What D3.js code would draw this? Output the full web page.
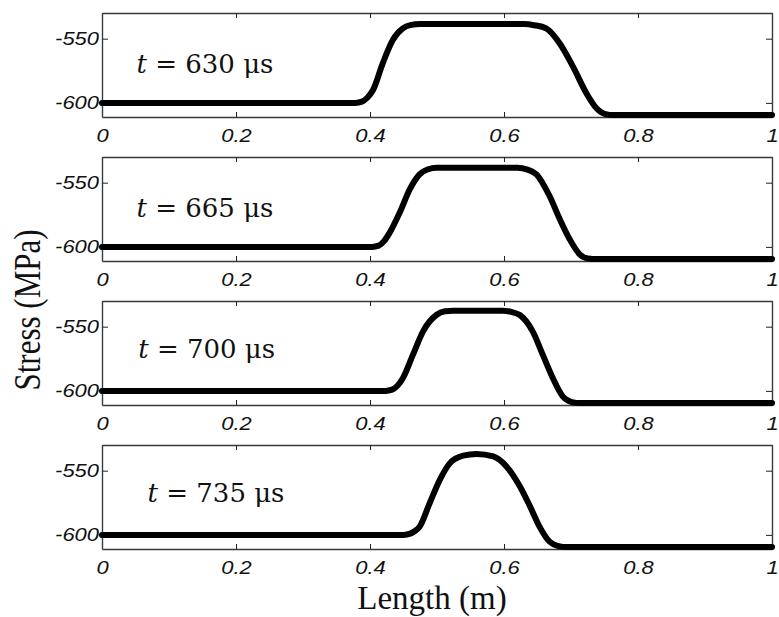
<!DOCTYPE html>
<html>
<head>
<meta charset="utf-8">
<script src="https://cdn.jsdelivr.net/npm/d3@7"></script>
<style>
  html, body { margin: 0; padding: 0; background: #fff; }
  svg { display: block; }
</style>
</head>
<body>
<svg id="chart" width="779" height="617"></svg>
<script>
// Stress profile along the bar at four instants
const times = ["630", "665", "700", "735"];
const lengthTicks = [0, 0.2, 0.4, 0.6, 0.8, 1];
const stressTicks = [-550, -600];

const length630 = [0, 0.378, 0.388, 0.396, 0.4045, 0.419, 0.434, 0.449, 0.460, 0.475, 0.630, 0.645, 0.663, 0.683, 0.703, 0.723, 0.738, 0.750, 0.765, 1];
const stress630 = [-600, -600, -599, -596, -590, -569.2, -551, -542, -539.5, -538.6, -538.6, -539.5, -542, -553.6, -571.8, -592.5, -604.2, -608.5, -609.5, -609.5];

const length665 = [0, 0.403, 0.413, 0.421, 0.4294, 0.4444, 0.4593, 0.474, 0.487, 0.499, 0.620, 0.635, 0.6485, 0.668, 0.6833, 0.698, 0.713, 0.725, 0.740, 1];
const stress665 = [-600, -600, -599, -595.5, -588.9, -573.3, -555.2, -543.5, -539.5, -538.3, -538.3, -539.8, -543.5, -560.4, -578.5, -594, -605.8, -609, -609.5, -609.5];

const length700 = [0, 0.423, 0.433, 0.441, 0.449, 0.464, 0.479, 0.499, 0.512, 0.524, 0.598, 0.611, 0.6236, 0.643, 0.658, 0.673, 0.688, 0.700, 0.715, 1];
const stress700 = [-600, -600, -599, -596, -590.2, -572, -553.8, -540.9, -538, -537.5, -537.5, -538.5, -540.9, -553.8, -572, -590.2, -604.5, -608.5, -609.5, -609.5];

const length735 = [0, 0.450, 0.460, 0.467, 0.474, 0.489, 0.504, 0.519, 0.539, 0.559, 0.584, 0.604, 0.624, 0.639, 0.653, 0.668, 0.680, 0.695, 1];
const stress735 = [-600, -600, -599, -597, -593.6, -575.4, -557.3, -544.3, -538.3, -537, -538.9, -546.9, -562.5, -578, -593.6, -605.3, -608.5, -609.5, -609.5];

const profiles = [
  { t: times[0], xs: length630, ys: stress630 },
  { t: times[1], xs: length665, ys: stress665 },
  { t: times[2], xs: length700, ys: stress700 },
  { t: times[3], xs: length735, ys: stress735 }
];

// label anchors in data units (length, stress)
const labelAt = [[0.0515, -576.7], [0.0515, -576.7], [0.054, -574.1], [0.068, -574.2]];

const svg = d3.select("#chart");
const left = 102, right = 772, panelH = 104, firstTop = 13, step = 144;
const frameColor = "#3a3a3a";
const sx = 1.22; // horizontal stretch of the axis lettering

const x = d3.scaleLinear().domain([0, 1]).range([left, right]);

profiles.forEach((p, i) => {
  const top = firstTop + i * step;
  const y = d3.scaleLinear().domain([-611, -530]).range([top + panelH, top]);
  const g = svg.append("g");

  // bottom axis with labels
  const bottom = g.append("g")
    .attr("transform", `translate(0,${top + panelH})`)
    .call(d3.axisBottom(x).tickValues(lengthTicks).tickSizeInner(-5).tickSizeOuter(0).tickPadding(12)
      .tickFormat(d => String(d)));
  // top axis, ticks only
  const topAx = g.append("g")
    .attr("transform", `translate(0,${top})`)
    .call(d3.axisTop(x).tickValues(lengthTicks).tickSizeInner(-5).tickSizeOuter(0).tickFormat(""));
  // left axis with labels
  const leftAx = g.append("g")
    .attr("transform", `translate(${left},0)`)
    .call(d3.axisLeft(y).tickValues(stressTicks).tickSizeInner(-6).tickSizeOuter(0).tickPadding(3)
      .tickFormat(d => String(d)));
  // right axis, ticks only
  const rightAx = g.append("g")
    .attr("transform", `translate(${right},0)`)
    .call(d3.axisRight(y).tickValues(stressTicks).tickSizeInner(-6).tickSizeOuter(0).tickFormat(""));

  [bottom, topAx, leftAx, rightAx].forEach(a => {
    a.select(".domain").attr("stroke", frameColor).attr("stroke-width", 1.4);
    a.selectAll(".tick line").attr("stroke", "#222").attr("stroke-width", 1);
  });
  topAx.selectAll("text").remove();
  rightAx.selectAll("text").remove();

  bottom.selectAll(".tick text")
    .attr("font-family", "'Liberation Sans', Arial, sans-serif")
    .attr("font-style", "italic")
    .attr("font-size", 18)
    .attr("fill", "#111")
    .attr("transform", `scale(${sx},1)`);

  leftAx.selectAll(".tick text")
    .attr("font-family", "'Liberation Sans', Arial, sans-serif")
    .attr("font-style", "italic")
    .attr("font-size", 18)
    .attr("fill", "#111")
    .attr("x", -3 / sx)
    .attr("transform", `scale(${sx},1)`);

  // stress profile
  const pts = p.xs.map((v, k) => [v, p.ys[k]]);
  g.append("path")
    .datum(pts)
    .attr("fill", "none")
    .attr("stroke", "#000")
    .attr("stroke-width", 6)
    .attr("stroke-linejoin", "round")
    .attr("stroke-linecap", "round")
    .attr("d", d3.line().x(d => x(d[0])).y(d => y(d[1])).curve(d3.curveMonotoneX));

  // time annotation
  const lab = g.append("text")
    .attr("x", x(labelAt[i][0]))
    .attr("y", y(labelAt[i][1]))
    .attr("font-family", "'DejaVu Serif', serif")
    .attr("font-size", 26)
    .attr("fill", "#111");
  lab.append("tspan").attr("font-style", "italic").text("t");
  lab.append("tspan").text(` = ${p.t} μs`);
});

// axis titles
svg.append("text")
  .attr("transform", `translate(40,310) scale(1.2,1) rotate(-90)`)
  .attr("text-anchor", "middle")
  .attr("font-family", "'Liberation Serif', 'Times New Roman', serif")
  .attr("font-size", 31)
  .attr("fill", "#111")
  .text("Stress (MPa)");

svg.append("text")
  .attr("x", 432)
  .attr("y", 609)
  .attr("text-anchor", "middle")
  .attr("font-family", "'Liberation Serif', 'Times New Roman', serif")
  .attr("font-size", 33)
  .attr("fill", "#111")
  .text("Length (m)");
</script>
</body>
</html>
